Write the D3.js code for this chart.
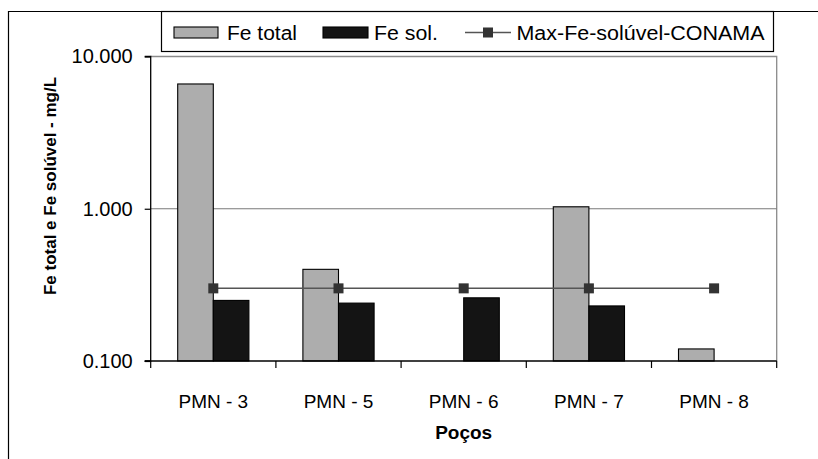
<!DOCTYPE html>
<html>
<head>
<meta charset="utf-8">
<script src="https://cdn.jsdelivr.net/npm/d3@7"></script>
<style>
  html, body { margin: 0; padding: 0; background: #fff; }
  svg { display: block; font-family: "Liberation Sans", Arial, sans-serif; }
</style>
</head>
<body>
<svg id="chart" width="818" height="459"></svg>
<script>
// Wells and measured iron concentrations (mg/L)
const wells = ["PMN - 3", "PMN - 5", "PMN - 6", "PMN - 7", "PMN - 8"];
const feTotal = [6.6, 0.40, null, 1.03, 0.12];
const feSol = [0.25, 0.24, 0.26, 0.23, null];
const conamaMax = [0.3, 0.3, 0.3, 0.3, 0.3];
const yTicks = [0.1, 1, 10];
const yTickLabels = ["0.100", "1.000", "10.000"];
const seriesNames = ["Fe total", "Fe sol.", "Max-Fe-solúvel-CONAMA"];

const svg = d3.select("#chart");
const plot = { left: 150.7, right: 776.7, top: 56.5, bottom: 361 };

// Outer chart frame (top and left edges visible)
svg.append("path")
  .attr("d", `M8.5,459 V11.5 H818`)
  .attr("fill", "none").attr("stroke", "#000").attr("stroke-width", 1.2);

const x = d3.scaleBand().domain(wells).range([plot.left, plot.right]).paddingInner(0).paddingOuter(0);
const y = d3.scaleLog().domain([0.1, 10]).range([plot.bottom, plot.top]);

const barW = 35.6;

// Plot-area frame on top and right (gray)
svg.append("path")
  .attr("d", `M${plot.left},${plot.top} H${plot.right} V${plot.bottom}`)
  .attr("fill", "none").attr("stroke", "#8a8a8a").attr("stroke-width", 1.3);

// Horizontal gridlines
svg.append("g").selectAll("line")
  .data(yTicks.filter(t => t > 0.1 && t < 10))
  .join("line")
  .attr("x1", plot.left).attr("x2", plot.right)
  .attr("y1", d => y(d)).attr("y2", d => y(d))
  .attr("stroke", "#7a7a7a").attr("stroke-width", 1.2);

// Fe total bars
svg.append("g").selectAll("rect")
  .data(wells.map((w, i) => ({ w, v: feTotal[i] })).filter(d => d.v != null))
  .join("rect")
  .attr("x", d => x(d.w) + x.bandwidth() / 2 - barW)
  .attr("y", d => y(d.v))
  .attr("width", barW)
  .attr("height", d => plot.bottom - y(d.v))
  .attr("fill", "#adadad").attr("stroke", "#000").attr("stroke-width", 1.1);

// Fe soluble bars
svg.append("g").selectAll("rect")
  .data(wells.map((w, i) => ({ w, v: feSol[i] })).filter(d => d.v != null))
  .join("rect")
  .attr("x", d => x(d.w) + x.bandwidth() / 2)
  .attr("y", d => y(d.v))
  .attr("width", barW)
  .attr("height", d => plot.bottom - y(d.v))
  .attr("fill", "#141414").attr("stroke", "#000").attr("stroke-width", 1.1);

// CONAMA maximum line with square markers
const limitPts = wells.map((w, i) => [x(w) + x.bandwidth() / 2, y(conamaMax[i])]);
svg.append("path")
  .attr("d", d3.line()(limitPts))
  .attr("fill", "none").attr("stroke", "#555").attr("stroke-width", 1.5);
svg.append("g").selectAll("rect")
  .data(limitPts)
  .join("rect")
  .attr("x", d => d[0] - 5).attr("y", d => d[1] - 5)
  .attr("width", 10).attr("height", 10)
  .attr("fill", "#333");

// Y axis
const yAxis = d3.axisLeft(y).tickValues(yTicks)
  .tickFormat((d, i) => yTickLabels[i]).tickSize(6).tickPadding(12);
const gy = svg.append("g").attr("transform", `translate(${plot.left},0)`).call(yAxis);
gy.select(".domain").attr("stroke", "#000").attr("stroke-width", 1.3)
  .attr("d", `M-6,${plot.bottom}H0V${plot.top}H-6`);
gy.selectAll(".tick line").attr("stroke", "#000").attr("stroke-width", 1.2);
gy.selectAll(".tick text").attr("font-size", 20).attr("fill", "#000")
  .attr("font-family", "Liberation Sans, Arial, sans-serif");

// X axis with ticks at category boundaries
const gx = svg.append("g").attr("transform", `translate(0,${plot.bottom})`);
gx.append("line").attr("x1", plot.left - 6).attr("x2", plot.right)
  .attr("stroke", "#000").attr("stroke-width", 1.3);
const bounds = wells.map(w => x(w)).concat([plot.right]);
gx.selectAll("line.tk").data(bounds).join("line").attr("class", "tk")
  .attr("x1", d => d).attr("x2", d => d).attr("y1", 0).attr("y2", 7)
  .attr("stroke", "#000").attr("stroke-width", 1.2);
gx.selectAll("text").data(wells).join("text")
  .attr("x", d => x(d) + x.bandwidth() / 2).attr("y", 47)
  .attr("text-anchor", "middle").attr("font-size", 19).attr("fill", "#000")
  .text(d => d);

// Axis titles
svg.append("text").attr("x", 463.7).attr("y", 439)
  .attr("text-anchor", "middle").attr("font-size", 19).attr("font-weight", "bold")
  .text("Poços");
svg.append("text")
  .attr("transform", `translate(56,186) rotate(-90)`)
  .attr("text-anchor", "middle").attr("font-size", 17).attr("font-weight", "bold")
  .text("Fe total e Fe solúvel - mg/L");

// Legend
const lg = svg.append("g");
lg.append("rect").attr("x", 161.5).attr("y", 11.5).attr("width", 612).attr("height", 40)
  .attr("fill", "#fff").attr("stroke", "#000").attr("stroke-width", 1.2);
lg.append("rect").attr("x", 174).attr("y", 27).attr("width", 44).attr("height", 11)
  .attr("fill", "#adadad").attr("stroke", "#000").attr("stroke-width", 1.1);
lg.append("rect").attr("x", 323).attr("y", 27).attr("width", 45).attr("height", 11)
  .attr("fill", "#141414").attr("stroke", "#000").attr("stroke-width", 1.1);
lg.append("line").attr("x1", 465).attr("x2", 511).attr("y1", 32.5).attr("y2", 32.5)
  .attr("stroke", "#555").attr("stroke-width", 1.5);
lg.append("rect").attr("x", 483).attr("y", 27.5).attr("width", 10).attr("height", 10)
  .attr("fill", "#333");
const legendText = [
  { x: 227, len: 70 },
  { x: 374, len: 64 },
  { x: 516.5, len: 248 }
];
lg.selectAll("text").data(legendText).join("text")
  .attr("x", d => d.x).attr("y", 39.5)
  .attr("font-size", 20).attr("fill", "#000")
  .attr("textLength", d => d.len).attr("lengthAdjust", "spacingAndGlyphs")
  .text((d, i) => seriesNames[i]);
</script>
</body>
</html>
